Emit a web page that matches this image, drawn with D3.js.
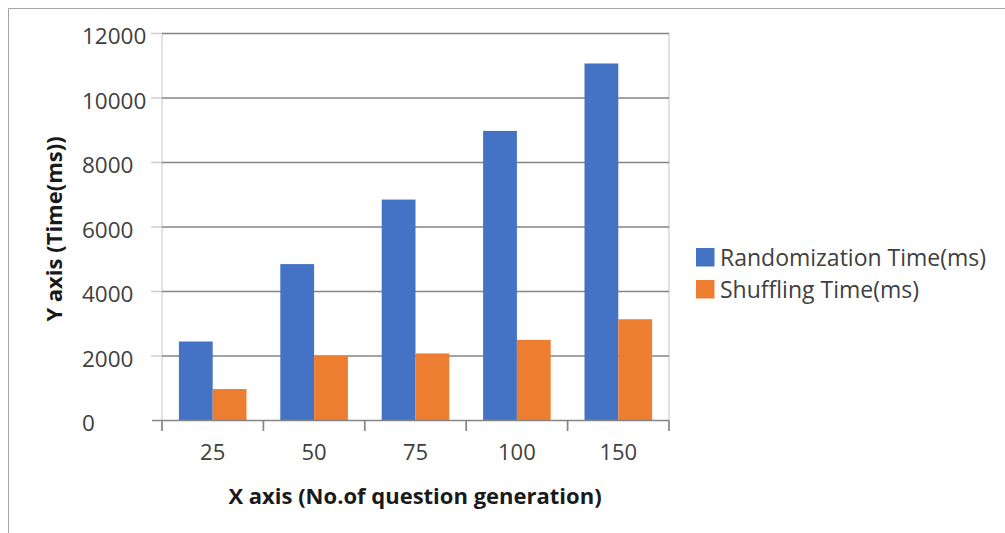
<!DOCTYPE html>
<html>
<head>
<meta charset="utf-8">
<script src="https://cdn.jsdelivr.net/npm/d3@7"></script>
<style>
  html, body { margin: 0; padding: 0; background: #ffffff; }
  svg { display: block; }
  text { font-family: "Open Sans", "Noto Sans", sans-serif; }
</style>
</head>
<body>
<svg id="chart" width="1005" height="533"></svg>
<script>
const categories = ["25", "50", "75", "100", "150"];
const seriesNames = ["Randomization Time(ms)", "Shuffling Time(ms)"];
const randomizationTime = [2450, 4850, 6850, 8980, 11070];
const shufflingTime = [975, 2000, 2080, 2500, 3140];
const yTicks = [0, 2000, 4000, 6000, 8000, 10000, 12000];
const seriesColors = ["#4472C4", "#ED7D31"];
const seriesValues = [randomizationTime, shufflingTime];

const svg = d3.select("#chart");

// outer border (top and left visible)
svg.append("path")
  .attr("d", "M8.5,533 L8.5,8.5 L1005,8.5")
  .attr("fill", "none").attr("stroke", "#a6a6a6").attr("stroke-width", 1);

const plotL = 162, plotR = 669, plotT = 33.5, plotB = 420.5;

const x = d3.scaleBand().domain(categories).range([plotL, plotR]).paddingInner(0).paddingOuter(0);
const x1 = d3.scaleBand().domain(seriesNames).range([0, x.bandwidth()]).paddingInner(0).paddingOuter(0.5);
const y = d3.scaleLinear().domain([0, 12000]).range([plotB, plotT]);

// vertical light lines (axis + plot right edge)
svg.append("line").attr("x1", plotL).attr("x2", plotL).attr("y1", plotT).attr("y2", plotB)
  .attr("stroke", "#d9d9d9").attr("stroke-width", 1.5);
svg.append("line").attr("x1", plotR).attr("x2", plotR).attr("y1", plotT).attr("y2", plotB)
  .attr("stroke", "#d9d9d9").attr("stroke-width", 1.5);

// y tick marks
svg.append("g").selectAll("line").data(yTicks.filter(d => d > 0)).join("line")
  .attr("x1", 151).attr("x2", plotL)
  .attr("y1", d => y(d)).attr("y2", d => y(d))
  .attr("stroke", "#cfcfcf").attr("stroke-width", 1.5);

// gridlines
svg.append("g").selectAll("line").data(yTicks.filter(d => d > 0)).join("line")
  .attr("x1", plotL).attr("x2", plotR)
  .attr("y1", d => y(d)).attr("y2", d => y(d))
  .attr("stroke", "#858585").attr("stroke-width", 1.7);

// y labels
svg.append("g").selectAll("text").data(yTicks).join("text")
  .attr("x", 82).attr("y", d => y(d) + 10.5)
  .attr("font-size", 22.5)
  .attr("fill", "#404040")
  .text(d => d);

// bars
const groups = svg.append("g").selectAll("g").data(categories).join("g")
  .attr("transform", d => `translate(${x(d)},0)`);
groups.selectAll("rect")
  .data((d, i) => seriesNames.map((s, j) => ({ s, v: seriesValues[j][i], c: seriesColors[j] })))
  .join("rect")
  .attr("x", d => x1(d.s))
  .attr("width", x1.bandwidth())
  .attr("y", d => y(d.v))
  .attr("height", d => y(0) - y(d.v))
  .attr("fill", d => d.c);

// bottom axis
svg.append("line").attr("x1", 152).attr("x2", plotR).attr("y1", plotB).attr("y2", plotB)
  .attr("stroke", "#858585").attr("stroke-width", 1.7);
const bounds = categories.map(c => x(c)).concat([plotR]);
svg.append("g").selectAll("line").data(bounds).join("line")
  .attr("x1", d => d).attr("x2", d => d)
  .attr("y1", plotB).attr("y2", 431)
  .attr("stroke", "#858585").attr("stroke-width", 1.7);

// x labels
svg.append("g").selectAll("text").data(categories).join("text")
  .attr("x", d => x(d) + x.bandwidth() / 2).attr("y", 460)
  .attr("text-anchor", "middle")
  .attr("font-size", 22)
  .attr("fill", "#404040")
  .text(d => d);

// axis titles
svg.append("text")
  .attr("x", 415).attr("y", 504)
  .attr("text-anchor", "middle")
  .attr("font-size", 22).attr("font-weight", "bold")
  .attr("fill", "#1a1a1a")
  .text("X axis (No.of question generation)");
svg.append("text")
  .attr("transform", "translate(62,229) rotate(-90)")
  .attr("text-anchor", "middle")
  .attr("font-size", 22).attr("font-weight", "bold")
  .attr("fill", "#1a1a1a")
  .text("Y axis (Time(ms))");

// legend
const legend = svg.append("g").selectAll("g").data(seriesNames).join("g")
  .attr("transform", (d, i) => `translate(696,${248 + i * 32})`);
legend.append("rect").attr("width", 18.5).attr("height", 18.5)
  .attr("fill", (d, i) => seriesColors[i]);
legend.append("text").attr("x", 24).attr("y", 18)
  .attr("font-size", 23).attr("fill", "#404040")
  .text(d => d);
</script>
</body>
</html>
